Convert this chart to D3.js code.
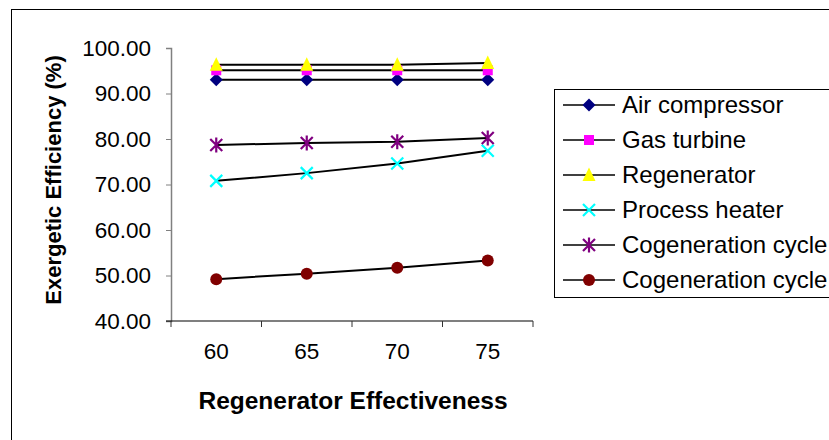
<!DOCTYPE html>
<html>
<head>
<meta charset="utf-8">
<script src="https://cdn.jsdelivr.net/npm/d3@7"></script>
<style>
  html, body { margin: 0; padding: 0; background: #fff; }
  svg { display: block; font-family: "Liberation Sans", Arial, sans-serif; }
</style>
</head>
<body>
<svg id="chart" width="829" height="440"></svg>
<script>
// Regenerator effectiveness (%) on the x axis
const categories = ["60", "65", "70", "75"];

// Exergetic efficiency (%) of each component
const airCompressor   = [93.0, 93.0, 93.0, 93.0];
const gasTurbine      = [95.1, 95.1, 95.1, 95.1];
const regenerator     = [96.3, 96.3, 96.3, 96.7];
const processHeater   = [70.8, 72.5, 74.6, 77.4];
const cogenCycleA     = [78.7, 79.1, 79.4, 80.2];
const cogenCycleB     = [49.2, 50.4, 51.7, 53.3];

const seriesNames = ["Air compressor", "Gas turbine", "Regenerator",
                     "Process heater", "Cogeneration cycle", "Cogeneration cycle"];
const yTicks = [40, 50, 60, 70, 80, 90, 100];

const series = [
  { name: seriesNames[0], values: airCompressor, marker: "diamond",  color: "#000080" },
  { name: seriesNames[1], values: gasTurbine,    marker: "square",   color: "#FF00FF" },
  { name: seriesNames[2], values: regenerator,   marker: "triangle", color: "#FFFF00" },
  { name: seriesNames[3], values: processHeater, marker: "cross",    color: "#00FFFF" },
  { name: seriesNames[4], values: cogenCycleA,   marker: "star",     color: "#800080" },
  { name: seriesNames[5], values: cogenCycleB,   marker: "circle",   color: "#800000" }
];

const svg = d3.select("#chart");

// chart frame
svg.append("rect")
  .attr("x", 11.5).attr("y", 9.5)
  .attr("width", 840).attr("height", 460)
  .attr("fill", "#fff").attr("stroke", "#000").attr("stroke-width", 1);

const plot = { left: 171, right: 533, top: 48, bottom: 321 };

const x = d3.scaleBand().domain(categories).range([plot.left, plot.right]);
const y = d3.scaleLinear().domain([40, 100]).range([plot.bottom, plot.top]);

// y axis
const yAxis = svg.append("g")
  .attr("transform", `translate(${plot.left},0)`)
  .call(d3.axisLeft(y).tickValues(yTicks).tickFormat(d3.format(".2f")).tickSize(5).tickPadding(15));
yAxis.select(".domain").attr("stroke", "#808080").attr("stroke-width", 1.5);
yAxis.selectAll(".tick line").attr("stroke", "#808080");
yAxis.selectAll(".tick text").attr("font-size", 22.5).attr("fill", "#000")
  .attr("font-family", "'Liberation Sans', Arial, sans-serif");

// x axis
const xAxis = svg.append("g")
  .attr("transform", `translate(0,${plot.bottom})`)
  .call(d3.axisBottom(x).tickSize(0).tickPadding(22));
xAxis.select(".domain").remove();
xAxis.selectAll(".tick text").attr("font-size", 22.5).attr("fill", "#000")
  .attr("font-family", "'Liberation Sans', Arial, sans-serif");
svg.append("line")
  .attr("x1", plot.left - 5).attr("x2", plot.right)
  .attr("y1", plot.bottom).attr("y2", plot.bottom)
  .attr("stroke", "#000").attr("stroke-width", 1.2);
// boundary ticks between categories
const bounds = categories.map(c => x(c)).concat([plot.right]);
svg.selectAll(".xb").data(bounds).enter().append("line")
  .attr("x1", d => d).attr("x2", d => d)
  .attr("y1", plot.bottom).attr("y2", plot.bottom + 6)
  .attr("stroke", "#333").attr("stroke-width", 1);

// axis titles
svg.append("text")
  .attr("x", 353).attr("y", 409)
  .attr("text-anchor", "middle")
  .attr("font-size", 24.5).attr("font-weight", "bold")
  .text("Regenerator Effectiveness");
svg.append("text")
  .attr("transform", "translate(61,180) rotate(-90)")
  .attr("text-anchor", "middle")
  .attr("font-size", 22).attr("font-weight", "bold")
  .text("Exergetic Efficiency (%)");

const cx = c => x(c) + x.bandwidth() / 2;

function drawMarker(g, type, color) {
  switch (type) {
    case "diamond":
      g.append("path").attr("d", "M0,-6.5L6.5,0L0,6.5L-6.5,0Z").attr("fill", color);
      break;
    case "square":
      g.append("rect").attr("x", -5).attr("y", -5).attr("width", 10).attr("height", 10).attr("fill", color);
      break;
    case "triangle":
      g.append("path").attr("d", "M0,-7.5L6.5,6L-6.5,6Z").attr("fill", color);
      break;
    case "cross":
      g.append("path").attr("d", "M-6,-6L6,6M6,-6L-6,6").attr("stroke", color).attr("stroke-width", 2.2);
      break;
    case "star":
      g.append("path").attr("d", "M-6,-6L6,6M6,-6L-6,6M0,-7.5L0,7.5").attr("stroke", color).attr("stroke-width", 2.2);
      break;
    case "circle":
      g.append("circle").attr("r", 6).attr("fill", color);
      break;
  }
}

const line = d3.line().x((d, i) => cx(categories[i])).y(d => y(d));

series.forEach(s => {
  svg.append("path")
    .datum(s.values)
    .attr("d", line)
    .attr("fill", "none").attr("stroke", "#000").attr("stroke-width", 2);
});
series.forEach(s => {
  s.values.forEach((v, i) => {
    const g = svg.append("g").attr("transform", `translate(${cx(categories[i])},${y(v)})`);
    drawMarker(g, s.marker, s.color);
  });
});

// legend
const legend = svg.append("g");
legend.append("rect")
  .attr("x", 554.5).attr("y", 89.5).attr("width", 300).attr("height", 208)
  .attr("fill", "#fff").attr("stroke", "#000").attr("stroke-width", 1);
series.forEach((s, i) => {
  const ly = 105 + i * 35;
  legend.append("line").attr("x1", 563).attr("x2", 615).attr("y1", ly).attr("y2", ly)
    .attr("stroke", "#000").attr("stroke-width", 1.5);
  const g = legend.append("g").attr("transform", `translate(589,${ly})`);
  drawMarker(g, s.marker, s.color);
  legend.append("text").attr("x", 622).attr("y", ly + 8)
    .attr("font-size", 24).text(s.name);
});
</script>
</body>
</html>
